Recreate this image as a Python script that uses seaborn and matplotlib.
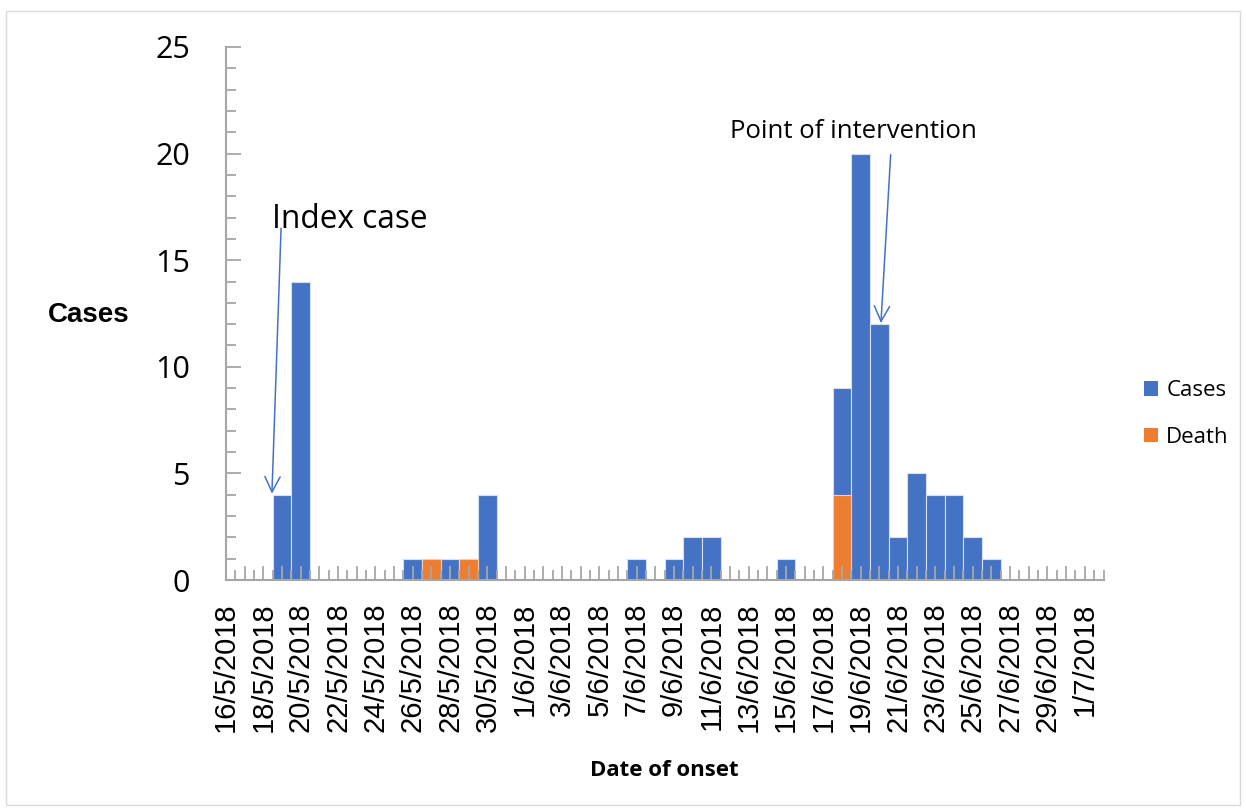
"""
Epidemic curve by date of onset, with deaths stacked under the cases.
"""

import pandas as pd
import matplotlib.pyplot as plt
import seaborn as sns
from matplotlib.patches import Patch, Rectangle
from matplotlib.ticker import MultipleLocator

# one entry per day, 16/5/2018 .. 1/7/2018
dates = pd.date_range("2018-05-16", "2018-07-01", freq="D")
date_labels = [f"{d.day}/{d.month}/{d.year}" for d in dates]

# non-zero days only, everything else is 0
case_counts = {
    "19/5/2018": 4, "20/5/2018": 14, "26/5/2018": 1, "28/5/2018": 1,
    "30/5/2018": 4, "7/6/2018": 1, "9/6/2018": 1, "10/6/2018": 2,
    "11/6/2018": 2, "15/6/2018": 1, "18/6/2018": 5, "19/6/2018": 20,
    "20/6/2018": 12, "21/6/2018": 2, "22/6/2018": 5, "23/6/2018": 4,
    "24/6/2018": 4, "25/6/2018": 2, "26/6/2018": 1,
}
death_counts = {"27/5/2018": 1, "29/5/2018": 1, "18/6/2018": 4}

series_names = ["Cases", "Death"]
series_colours = ["#4472C4", "#ED7D31"]

df = pd.DataFrame({"date": date_labels})
df["cases"] = df["date"].map(case_counts).fillna(0)
df["death"] = df["date"].map(death_counts).fillna(0)
df["total"] = df["cases"] + df["death"]

sns.set_style("white")
plt.rcParams["font.family"] = ["Open Sans", "DejaVu Sans"]
plt.rcParams["text.color"] = "black"
plt.rcParams["xtick.labelcolor"] = "black"
plt.rcParams["ytick.labelcolor"] = "black"

fig = plt.figure(figsize=(12.46, 8.09), dpi=100)
ax = fig.add_axes([226 / 1246, 1 - 580 / 809, 877.5 / 1246, 533 / 809])

# stacked look: totals in blue, deaths drawn over the bottom in orange
sns.barplot(data=df, x="date", y="total", order=date_labels, color=series_colours[0],
            width=1.0, edgecolor="#d6e0f3", linewidth=0.8, saturation=1, ax=ax)
sns.barplot(data=df, x="date", y="death", order=date_labels, color=series_colours[1],
            width=1.0, edgecolor="#f6cdb0", linewidth=0.8, saturation=1, ax=ax)

ax.set_xlim(0, len(date_labels))
ax.set_ylim(0, 25)
ax.set_axisbelow(False)  # ticks sit on top of the bars

# a tick every day, a label every second day
ax.set_xticks(range(len(date_labels)))
ax.set_xticklabels([lab if i % 2 == 0 else "" for i, lab in enumerate(date_labels)],
                   rotation=90, family="Liberation Sans", fontsize=21)
ax.xaxis.set_minor_locator(MultipleLocator(0.5))
ax.yaxis.set_major_locator(MultipleLocator(5))
ax.yaxis.set_minor_locator(MultipleLocator(1))
ax.tick_params(axis="y", which="major", direction="in", length=11, width=1.3,
               color="#a6a6a6", labelsize=22, pad=26, left=True, labelcolor="black")
ax.tick_params(axis="y", which="minor", direction="in", length=7, width=1.3,
               color="#a6a6a6", left=True)
ax.tick_params(axis="x", which="minor", direction="in", length=7, width=1.3,
               color="#a6a6a6", bottom=True)
ax.tick_params(axis="x", which="major", direction="in", length=10, width=1.3,
               color="#a6a6a6", pad=16, bottom=True, labelcolor="black")

for side in ["top", "right"]:
    ax.spines[side].set_visible(False)
for side in ["left", "bottom"]:
    ax.spines[side].set_color("#a6a6a6")
    ax.spines[side].set_linewidth(1.5)

ax.set_ylabel("")
ax.set_xlabel("")
fig.text(89 / 1246, 1 - 315 / 809, "Cases", family="Liberation Sans", weight="bold",
         fontsize=20, ha="center", va="center")
fig.text(664 / 1246, 1 - 770 / 809, "Date of onset", weight="bold", fontsize=16,
         ha="center", va="center")

# annotations
arrow = dict(arrowstyle="->,head_length=1.1,head_width=0.55", color="#4472C4", lw=1.1,
             shrinkA=0, shrinkB=0)
ax.annotate("", xy=(2.46, 4.05), xytext=(2.95, 16.5), arrowprops=arrow)
ax.text(2.46, 16.9, "Index case", fontsize=22.8, ha="left", va="center")
ax.annotate("", xy=(35.08, 12.05), xytext=(35.6, 19.95), arrowprops=arrow)
ax.text(33.6, 21.06, "Point of intervention", fontsize=18.5, ha="center", va="center")

handles = [Patch(facecolor=c, edgecolor="none") for c in series_colours]
fig.legend(handles, series_names, loc="center left", bbox_to_anchor=(1144 / 1246, 1 - 414 / 809),
           frameon=False, fontsize=16, handlelength=0.65, handleheight=0.65,
           handletextpad=0.35, labelspacing=1.15, borderpad=0, borderaxespad=0)

# light chart border
fig.patches.append(Rectangle((0.005, 0.005), 0.99, 0.982, transform=fig.transFigure,
                             fill=False, edgecolor="#d9d9d9", linewidth=1))

fig.savefig("out.png", dpi=100)
